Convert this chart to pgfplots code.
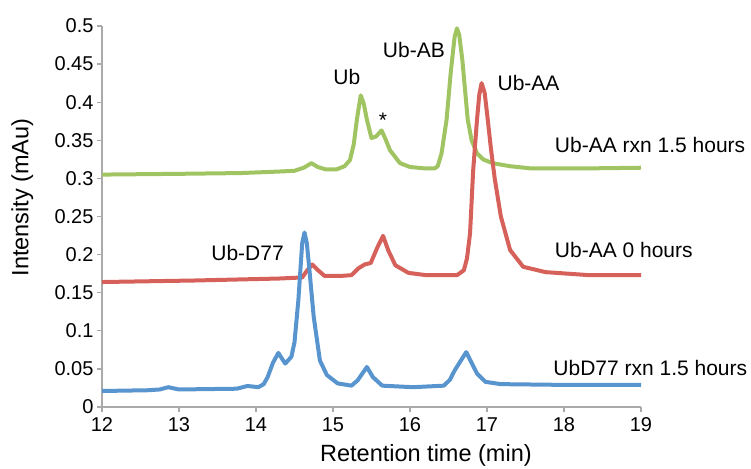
\documentclass[border=0pt]{standalone}
\usepackage{pgfplots}
\pgfplotsset{compat=1.18}
\usepackage{fontspec}
\setmainfont{Liberation Sans}
\definecolor{cgreen}{RGB}{160,196,98}
\definecolor{cred}{RGB}{214,96,90}
\definecolor{cblue}{RGB}{88,148,206}
\definecolor{caxis}{RGB}{170,170,170}
\begin{document}
\begin{tikzpicture}
\useasboundingbox (-102pt,-61pt) rectangle (649pt,407pt);
\begin{axis}[
  scale only axis,
  width=539pt, height=381pt,
  xmin=12, xmax=19, ymin=0, ymax=0.5,
  xtick={12,13,...,19},
  ytick={0,0.05,0.1,0.15,0.2,0.25,0.3,0.35,0.4,0.45,0.5},
  yticklabels={0,0.05,0.1,0.15,0.2,0.25,0.3,0.35,0.4,0.45,0.5},
  xticklabels={12,13,14,15,16,17,18,19},
  axis x line*=bottom, axis y line*=left,
  axis line style={caxis, line width=1.5pt, -},
  tick style={caxis, line width=1.2pt},
  tick align=outside,
  major tick length=5pt,
  ticklabel style={font=\fontsize{20}{22}\selectfont, text=black},
  xticklabel style={yshift=-2pt},
  xlabel={Retention time (min)},
  ylabel={Intensity (mAu)},
  label style={font=\fontsize{23.5}{26}\selectfont},
  xlabel style={at={(axis description cs:0.601,0)}, anchor=base, yshift=-54pt},
  ylabel style={at={(axis description cs:-0.148,0.55)}, anchor=center},
  clip=false,
]
% green: Ub-AA rxn 1.5 hours
\addplot[cgreen, line width=4pt, line join=round] coordinates {
(12,0.305) (13,0.306) (13.8,0.307) (14.3,0.309) (14.5,0.310) (14.62,0.314) (14.72,0.320) (14.8,0.315) (14.9,0.312) (15.05,0.312)
(15.15,0.316) (15.22,0.324) (15.27,0.345) (15.31,0.377) (15.36,0.409) (15.40,0.398) (15.44,0.377) (15.50,0.353) (15.56,0.355)
(15.63,0.363) (15.68,0.352) (15.74,0.337) (15.87,0.320) (16.0,0.315) (16.2,0.313) (16.32,0.313) (16.36,0.316) (16.41,0.333)
(16.475,0.377) (16.53,0.440) (16.58,0.486) (16.61,0.497) (16.64,0.488) (16.68,0.455) (16.75,0.377) (16.80,0.350) (16.87,0.333)
(16.95,0.325) (17.07,0.320) (17.3,0.316) (17.58,0.313) (18.2,0.313) (19,0.314)
};
% red: Ub-AA 0 hours
\addplot[cred, line width=4pt, line join=round] coordinates {
(12,0.164) (13.2,0.166) (14.3,0.1686) (14.6,0.170) (14.67,0.180) (14.73,0.187) (14.8,0.180) (14.89,0.172) (15.1,0.172) (15.24,0.173)
(15.33,0.182) (15.41,0.187) (15.49,0.189) (15.57,0.208) (15.65,0.2246) (15.72,0.205) (15.81,0.186) (15.98,0.176) (16.21,0.173)
(16.61,0.173) (16.70,0.1795) (16.74,0.195) (16.78,0.228) (16.82,0.310) (16.87,0.377) (16.90,0.410) (16.93,0.425) (16.97,0.412)
(17.01,0.377) (17.05,0.340) (17.10,0.300) (17.18,0.250) (17.30,0.206) (17.47,0.184) (17.76,0.177) (18.33,0.173) (19,0.173)
};
% blue: UbD77 rxn 1.5 hours
\addplot[cblue, line width=4pt, line join=round] coordinates {
(12,0.021) (12.6,0.022) (12.75,0.023) (12.86,0.026) (13.0,0.023) (13.75,0.024) (13.89,0.0276) (14.03,0.026) (14.1,0.030)
(14.15,0.039) (14.22,0.058) (14.29,0.071) (14.34,0.063) (14.38,0.057) (14.46,0.066) (14.5,0.085) (14.55,0.140) (14.6,0.215)
(14.63,0.229) (14.66,0.215) (14.69,0.184) (14.75,0.118) (14.83,0.061) (14.92,0.042) (15.06,0.031) (15.24,0.028) (15.32,0.035)
(15.44,0.0525) (15.52,0.039) (15.64,0.028) (16.04,0.026) (16.44,0.028) (16.52,0.036) (16.58,0.048) (16.73,0.072) (16.8,0.058)
(16.87,0.044) (16.98,0.033) (17.18,0.030) (18,0.029) (19,0.029)
};
\begin{scope}[font=\fontsize{21}{23}\selectfont]
\node at (axis cs:15.18,0.4326) {Ub};
\node at (axis cs:15.65,0.376) {*};
\node at (axis cs:16.05,0.469) {Ub-AB};
\node at (axis cs:17.54,0.425) {Ub-AA};
\node[anchor=west, inner sep=0pt] at (axis cs:17.88,0.344) {Ub-AA rxn 1.5 hours};
\node[anchor=west, inner sep=0pt] at (axis cs:17.88,0.206) {Ub-AA 0 hours};
\node[anchor=west, inner sep=0pt] at (axis cs:17.86,0.051) {UbD77 rxn 1.5 hours};
\node at (axis cs:13.89,0.2027) {Ub-D77};
\end{scope}
\end{axis}
\end{tikzpicture}
\end{document}
